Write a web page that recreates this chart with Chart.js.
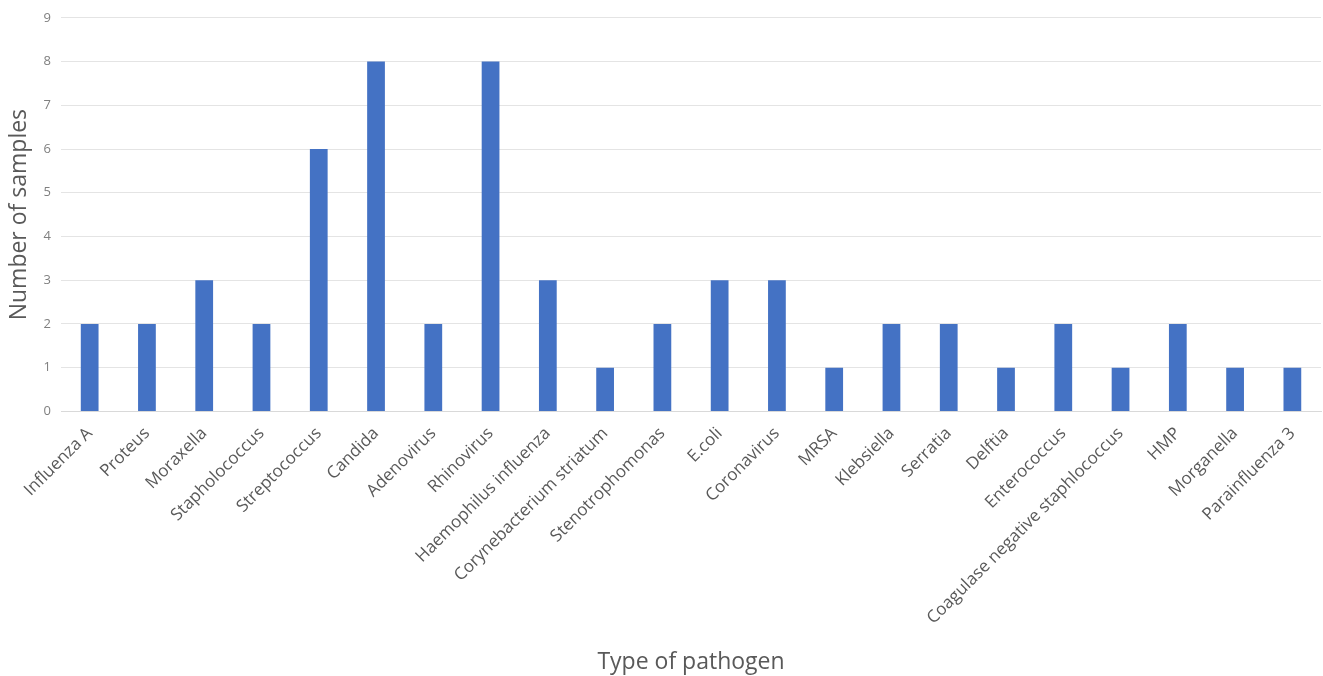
<!DOCTYPE html>
<html>
<head>
<meta charset="utf-8">
<script src="https://cdn.jsdelivr.net/npm/chart.js@4"></script>
<style>
  html, body { margin: 0; padding: 0; background: #fff; }
  #wrap { width: 1323px; height: 676px; }
</style>
</head>
<body>
<div id="wrap"><canvas id="pathogenChart"></canvas></div>
<script>
const pathogens = ["Influenza A", "Proteus", "Moraxella", "Stapholococcus", "Streptococcus", "Candida",
    "Adenovirus", "Rhinovirus", "Haemophilus influenza", "Corynebacterium striatum", "Stenotrophomonas",
    "E.coli", "Coronavirus", "MRSA", "Klebsiella", "Serratia", "Delftia", "Enterococcus",
    "Coagulase negative staphlococcus", "HMP", "Morganella", "Parainfluenza 3"];
const sampleCounts = [2, 2, 3, 2, 6, 8, 2, 8, 3, 1, 2, 3, 3, 1, 2, 2, 1, 2, 1, 2, 1, 1];
const yMax = 9;

const ctx = document.getElementById("pathogenChart").getContext("2d");
new Chart(ctx, {
    type: "bar",
    data: {
        labels: pathogens,
        datasets: [{
            label: "Number of samples",
            data: sampleCounts,
            backgroundColor: "#4472C4",
            barPercentage: 0.31,
            categoryPercentage: 1.0
        }]
    },
    options: {
        responsive: true,
        maintainAspectRatio: false,
        animation: false,
        layout: { padding: { top: 0, right: 2, bottom: 0, left: 6 } },
        plugins: {
            legend: { display: false },
            tooltip: { enabled: false }
        },
        scales: {
            x: {
                grid: { display: false, drawTicks: false },
                border: { color: "#d9d9d9" },
                ticks: {
                    color: "#595959",
                    font: { family: "Open Sans", size: 17 },
                    maxRotation: 45,
                    minRotation: 45,
                    autoSkip: false,
                    padding: 12
                },
                title: {
                    display: true,
                    text: "Type of pathogen",
                    color: "#595959",
                    font: { family: "Open Sans", size: 23 },
                    padding: { top: 8, bottom: 0 }
                },
                // first rotated label may hang past the y axis, like the original
                afterFit: (scale) => { scale.paddingLeft = 0; }
            },
            y: {
                min: 0,
                max: yMax,
                grid: { color: "#e4e4e4", drawTicks: false },
                border: { display: false },
                ticks: {
                    stepSize: 1,
                    color: "#7f7f7f",
                    font: { family: "Open Sans", size: 13 },
                    padding: 10
                },
                title: {
                    display: true,
                    text: "Number of samples",
                    color: "#595959",
                    font: { family: "Open Sans", size: 23 },
                    padding: { top: 0, bottom: 0 }
                }
            }
        }
    }
});
</script>
</body>
</html>
